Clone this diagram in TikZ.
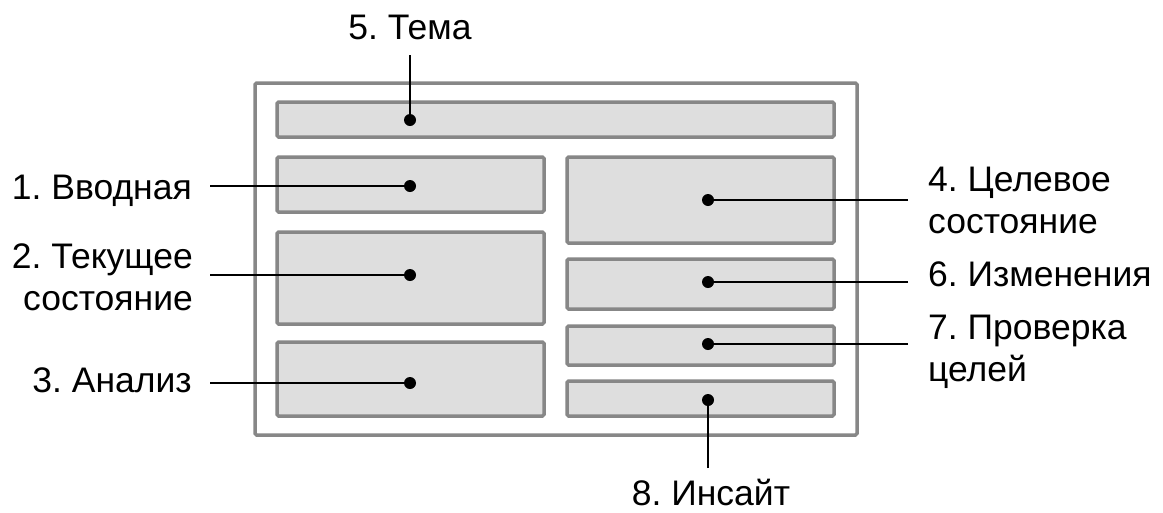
\documentclass[tikz,border=0pt]{standalone}
\usepackage{fontspec}
\setmainfont{Liberation Sans}
\frenchspacing
\definecolor{frame}{HTML}{878787}
\definecolor{boxfill}{HTML}{DEDEDE}
\begin{document}
\begin{tikzpicture}[x=1pt,y=-1pt,
  panel/.style={draw=frame,line width=3.5pt,fill=boxfill,rounded corners=1.5pt},
  outer/.style={draw=frame,line width=3.5pt,fill=white,rounded corners=1.5pt},
  dot/.style={circle,fill=black,inner sep=0pt,minimum size=12pt},
  conn/.style={line width=2pt,black},
  lab/.style={inner sep=0pt,font=\fontsize{35.5}{42}\selectfont}]
\useasboundingbox (0,0) rectangle (1163,512);
% frame
\draw[outer] (255,83) rectangle (857,435);
% panels
\draw[panel] (277,102) rectangle (834,137);
\draw[panel] (277,157) rectangle (544,212);
\draw[panel] (277,232) rectangle (544,324);
\draw[panel] (277,342) rectangle (544,416);
\draw[panel] (567,157) rectangle (834,243);
\draw[panel] (567,259) rectangle (834,309);
\draw[panel] (567,326) rectangle (834,365);
\draw[panel] (567,381) rectangle (834,416);
% dots
\node[dot] (d5) at (410,120) {};
\node[dot] (d1) at (410,186) {};
\node[dot] (d2) at (410,275) {};
\node[dot] (d3) at (410,383) {};
\node[dot] (d4) at (708,200) {};
\node[dot] (d6) at (708,282) {};
\node[dot] (d7) at (708,344) {};
\node[dot] (d8) at (708,400) {};
% free ends
\coordinate (e5) at (410,55);
\coordinate (e1) at (210,186);
\coordinate (e2) at (210,275);
\coordinate (e3) at (210,383);
\coordinate (e4) at (908,200);
\coordinate (e6) at (908,282);
\coordinate (e7) at (908,344);
\coordinate (e8) at (708,468);
% connectors
\draw[conn] (e5) -- (d5.center);
\draw[conn] (e1) -- (d1.center);
\draw[conn] (e2) -- (d2.center);
\draw[conn] (e3) -- (d3.center);
\draw[conn] (e4) -- (d4.center);
\draw[conn] (e6) -- (d6.center);
\draw[conn] (e7) -- (d7.center);
\draw[conn] (e8) -- (d8.center);
% labels
\node[lab,anchor=base] (l5) at (410,39) {5. Тема};
\node[lab,anchor=base east] (l1) at (192,199) {1. Вводная};
\node[lab,anchor=east,align=right] (l2) at (193,277) {2. Текущее\\состояние};
\node[lab,anchor=base east] (l3) at (192,392) {3. Анализ};
\node[lab,anchor=west,align=left] (l4) at (928,200) {4. Целевое\\состояние};
\node[lab,anchor=base west] (l6) at (928,286) {6. Изменения};
\node[lab,anchor=west,align=left] (l7) at (928,352) {7. Проверка\\целей};
\node[lab,anchor=base] (l8) at (711,505) {8. Инсайт};
\end{tikzpicture}
\end{document}
